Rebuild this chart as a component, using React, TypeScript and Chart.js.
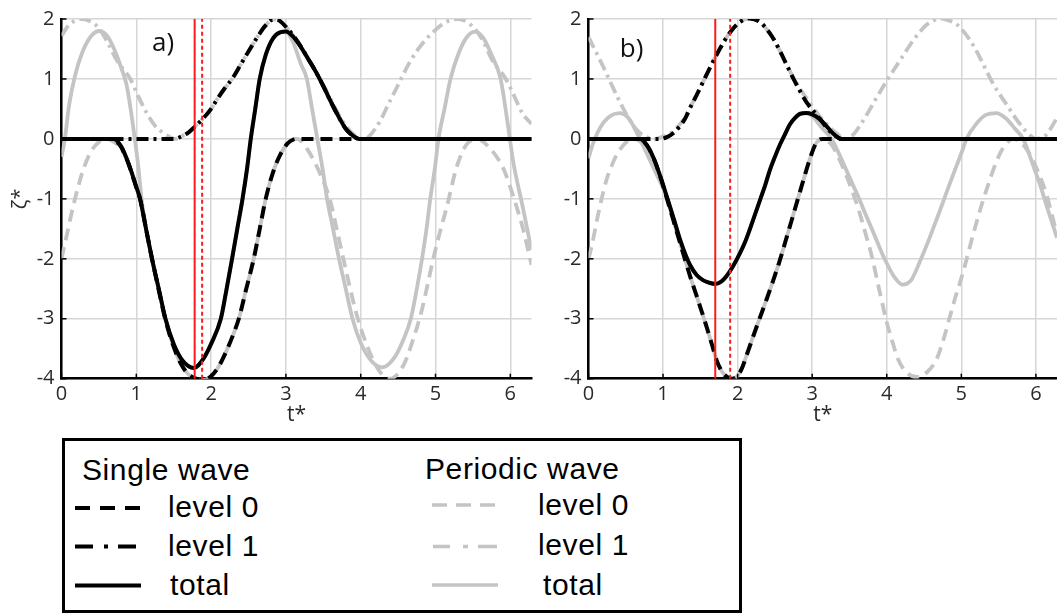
import React, { useEffect, useRef } from 'react';
import { Chart, registerables } from 'chart.js';

Chart.register(...registerables);

type Pt = [number, number];

// ---------- axes ----------
const X_MIN = 0;
const X_MAX = 6.2832;
const Y_MIN = -4;
const Y_MAX = 2;
const X_TICKS = [0, 1, 2, 3, 4, 5, 6];
const Y_TICKS = [-4, -3, -2, -1, 0, 1, 2];
const X_TITLE = 't*';
const Y_TITLE = 'ζ*';

// ---------- panel a) ----------
const A_SINGLE_TOTAL: Pt[] = [
  [0, 0], [0.7, 0], [0.8, -0.13], [0.9, -0.42], [1.0, -0.8], [1.05, -1.0], [1.13, -1.5], [1.21, -2.0],
  [1.3, -2.5], [1.39, -3.0], [1.5, -3.42], [1.62, -3.7], [1.77, -3.82], [1.9, -3.66], [2.0, -3.42],
  [2.13, -3.0], [2.2, -2.55], [2.28, -2.0], [2.35, -1.5], [2.42, -1.0], [2.48, -0.5], [2.53, 0],
  [2.59, 0.5], [2.65, 1.0], [2.73, 1.4], [2.83, 1.68], [2.93, 1.78], [3.0, 1.79], [3.1, 1.7],
  [3.2, 1.53], [3.3, 1.33], [3.4, 1.12], [3.5, 0.88], [3.6, 0.62], [3.7, 0.38], [3.8, 0.17],
  [3.9, 0.05], [3.98, 0], [6.2832, 0],
];
const A_SINGLE_LEVEL0: Pt[] = [
  [0, 0], [0.68, 0], [0.75, -0.06], [0.8, -0.14], [0.9, -0.43], [1.0, -0.81], [1.05, -1.0], [1.13, -1.5],
  [1.21, -2.0], [1.3, -2.52], [1.39, -3.02], [1.5, -3.47], [1.6, -3.76], [1.7, -3.93], [1.8, -4.0],
  [1.9, -4.02], [2.0, -3.96], [2.1, -3.8], [2.2, -3.55], [2.3, -3.25], [2.37, -3.0], [2.47, -2.5],
  [2.57, -2.0], [2.65, -1.5], [2.73, -1.0], [2.83, -0.55], [2.93, -0.25], [3.02, -0.08], [3.1, -0.01],
  [3.15, 0], [6.2832, 0],
];
const A_SINGLE_LEVEL1: Pt[] = [
  [0, 0], [1.5, 0], [1.6, 0.04], [1.7, 0.11], [1.78, 0.2], [1.9, 0.35], [2.0, 0.5], [2.08, 0.66],
  [2.18, 0.84], [2.28, 1.0], [2.4, 1.25], [2.53, 1.52], [2.63, 1.72], [2.72, 1.88], [2.83, 1.99],
  [2.9, 1.98], [3.0, 1.87], [3.1, 1.72], [3.2, 1.54], [3.3, 1.33], [3.4, 1.12], [3.5, 0.88],
  [3.6, 0.62], [3.7, 0.38], [3.8, 0.17], [3.9, 0.05], [3.98, 0], [6.2832, 0],
];
const A_PERIODIC_TOTAL: Pt[] = [
  [0, -0.3], [0.045, 0], [0.1, 0.55], [0.18, 1.05], [0.28, 1.45], [0.4, 1.72], [0.51, 1.8], [0.62, 1.7],
  [0.72, 1.45], [0.8, 1.18], [0.87, 0.9], [0.93, 0.45], [0.98, 0], [1.03, -0.5], [1.07, -1.0],
  [1.13, -1.5], [1.21, -2.0], [1.3, -2.5], [1.39, -3.0], [1.5, -3.42], [1.62, -3.7], [1.77, -3.82],
  [1.9, -3.66], [2.0, -3.42], [2.13, -3.0], [2.2, -2.55], [2.28, -2.0], [2.35, -1.5], [2.42, -1.0],
  [2.48, -0.5], [2.53, 0], [2.59, 0.5], [2.65, 1.0], [2.73, 1.4], [2.83, 1.68], [2.93, 1.78],
  [3.0, 1.79], [3.1, 1.6], [3.2, 1.25], [3.28, 1.0], [3.35, 0.5], [3.42, 0], [3.49, -0.5],
  [3.55, -1.0], [3.63, -1.5], [3.71, -2.0], [3.8, -2.5], [3.89, -3.0], [4.0, -3.4], [4.14, -3.7],
  [4.29, -3.81], [4.45, -3.65], [4.57, -3.35], [4.67, -3.0], [4.75, -2.5], [4.82, -2.0], [4.88, -1.5],
  [4.93, -1.0], [4.99, -0.5], [5.04, 0], [5.12, 0.5], [5.2, 1.0], [5.3, 1.4], [5.42, 1.7],
  [5.53, 1.79], [5.64, 1.68], [5.75, 1.4], [5.87, 1.0], [5.96, 0.3], [6.04, -0.39], [6.16, -1.1],
  [6.2832, -1.85],
];
const A_PERIODIC_LEVEL0: Pt[] = [
  [0, -2.0], [0.08, -1.55], [0.17, -1.05], [0.3, -0.48], [0.4, -0.2], [0.5, -0.05], [0.6, 0],
  [0.7, -0.05], [0.8, -0.16], [0.9, -0.43], [1.0, -0.81], [1.05, -1.0], [1.13, -1.5], [1.21, -2.0],
  [1.3, -2.52], [1.39, -3.02], [1.5, -3.47], [1.6, -3.76], [1.7, -3.93], [1.8, -4.0], [1.9, -4.02],
  [2.0, -3.96], [2.1, -3.8], [2.2, -3.55], [2.3, -3.25], [2.37, -3.0], [2.47, -2.5], [2.57, -2.0],
  [2.65, -1.5], [2.73, -1.0], [2.83, -0.55], [2.93, -0.25], [3.02, -0.08], [3.1, -0.01], [3.15, 0],
  [3.3, -0.2], [3.46, -0.59], [3.59, -1.02], [3.67, -1.45], [3.75, -1.9], [3.85, -2.45],
  [3.95, -2.95], [4.1, -3.5], [4.26, -3.89], [4.39, -4.0], [4.57, -3.78], [4.7, -3.35],
  [4.82, -2.84], [4.97, -2.0], [5.06, -1.55], [5.15, -1.14], [5.28, -0.48], [5.4, -0.12],
  [5.5, -0.01], [5.56, 0], [5.7, -0.12], [5.86, -0.38], [5.93, -0.56], [6.05, -1.0], [6.17, -1.5],
  [6.2832, -2.1],
];
const A_PERIODIC_LEVEL1: Pt[] = [
  [0, 1.72], [0.1, 1.9], [0.27, 2.0], [0.4, 1.95], [0.51, 1.83], [0.62, 1.6], [0.74, 1.31],
  [0.92, 1.0], [1.03, 0.7], [1.14, 0.43], [1.25, 0.22], [1.36, 0.1], [1.45, 0.03], [1.52, 0],
  [1.6, 0.04], [1.7, 0.11], [1.78, 0.2], [1.9, 0.35], [2.0, 0.5], [2.08, 0.66], [2.18, 0.84],
  [2.28, 1.0], [2.4, 1.25], [2.53, 1.52], [2.63, 1.72], [2.72, 1.88], [2.83, 1.99], [2.9, 1.98],
  [3.0, 1.87], [3.1, 1.72], [3.2, 1.54], [3.3, 1.33], [3.4, 1.12], [3.5, 0.9], [3.6, 0.66],
  [3.7, 0.42], [3.8, 0.22], [3.92, 0.06], [4.02, 0], [4.1, 0.03], [4.26, 0.3], [4.37, 0.58],
  [4.48, 0.85], [4.57, 1.08], [4.66, 1.29], [4.77, 1.5], [4.88, 1.67], [5.0, 1.82], [5.1, 1.92],
  [5.2, 1.98], [5.31, 2.0], [5.42, 1.95], [5.53, 1.83], [5.65, 1.6], [5.76, 1.31], [5.94, 1.0],
  [6.05, 0.72], [6.16, 0.43], [6.2832, 0.25],
];
const A_RED_SOLID_T = 1.78;
const A_RED_DOTTED_T = 1.88;

// ---------- panel b) ----------
const B_SINGLE_TOTAL: Pt[] = [
  [0, 0], [0.69, 0], [0.78, -0.1], [0.87, -0.31], [0.97, -0.65], [1.06, -1.0], [1.15, -1.36],
  [1.23, -1.69], [1.3, -1.93], [1.36, -2.1], [1.45, -2.27], [1.54, -2.36], [1.62, -2.4], [1.7, -2.42],
  [1.78, -2.38], [1.85, -2.29], [1.94, -2.12], [2.03, -1.91], [2.1, -1.72], [2.16, -1.52],
  [2.23, -1.27], [2.3, -1.02], [2.37, -0.77], [2.43, -0.53], [2.5, -0.3], [2.57, -0.09], [2.64, 0.09],
  [2.7, 0.24], [2.77, 0.35], [2.84, 0.42], [2.92, 0.43], [3.0, 0.41], [3.1, 0.33], [3.2, 0.2],
  [3.28, 0.09], [3.35, 0.02], [3.4, 0], [6.2832, 0],
];
const B_SINGLE_LEVEL0: Pt[] = [
  [0, 0], [0.66, 0], [0.72, -0.02], [0.78, -0.1], [0.87, -0.31], [0.97, -0.66], [1.06, -1.03],
  [1.16, -1.45], [1.27, -1.91], [1.36, -2.28], [1.45, -2.62], [1.58, -3.12], [1.66, -3.45],
  [1.72, -3.7], [1.8, -3.9], [1.87, -3.98], [1.93, -4.0], [2.0, -3.95], [2.06, -3.82], [2.12, -3.61],
  [2.25, -3.15], [2.39, -2.67], [2.48, -2.35], [2.57, -2.01], [2.66, -1.63], [2.75, -1.25],
  [2.86, -0.78], [2.97, -0.33], [3.04, -0.1], [3.1, -0.01], [3.14, 0], [6.2832, 0],
];
const B_SINGLE_LEVEL1: Pt[] = [
  [0, 0], [0.97, 0], [1.05, 0.03], [1.14, 0.1], [1.23, 0.22], [1.3, 0.35], [1.36, 0.51], [1.45, 0.73],
  [1.54, 0.96], [1.61, 1.14], [1.67, 1.29], [1.76, 1.5], [1.83, 1.65], [1.9, 1.78], [2.03, 1.95],
  [2.16, 2.01], [2.3, 1.95], [2.39, 1.83], [2.48, 1.67], [2.57, 1.46], [2.66, 1.23], [2.75, 1.0],
  [2.84, 0.79], [2.93, 0.6], [3.02, 0.46], [3.1, 0.34], [3.2, 0.18], [3.28, 0.08], [3.35, 0.02],
  [3.4, 0], [6.2832, 0],
];
const B_PERIODIC_TOTAL: Pt[] = [
  [0, -0.32], [0.06, -0.08], [0.12, 0.1], [0.2, 0.27], [0.3, 0.39], [0.42, 0.43], [0.52, 0.37],
  [0.6, 0.22], [0.68, 0.02], [0.78, -0.24], [0.87, -0.48], [0.97, -0.74], [1.06, -1.0], [1.15, -1.36],
  [1.23, -1.69], [1.3, -1.93], [1.36, -2.1], [1.45, -2.27], [1.54, -2.36], [1.62, -2.4], [1.7, -2.42],
  [1.78, -2.38], [1.85, -2.29], [1.94, -2.12], [2.03, -1.91], [2.1, -1.72], [2.16, -1.52],
  [2.23, -1.27], [2.3, -1.02], [2.37, -0.77], [2.43, -0.53], [2.5, -0.3], [2.57, -0.09], [2.64, 0.09],
  [2.7, 0.24], [2.77, 0.35], [2.84, 0.42], [2.92, 0.43], [3.0, 0.38], [3.12, 0.2], [3.26, 0],
  [3.36, -0.25], [3.45, -0.5], [3.54, -0.75], [3.63, -1.0], [3.72, -1.27], [3.8, -1.5], [3.89, -1.77],
  [3.97, -2.0], [4.1, -2.3], [4.21, -2.43], [4.33, -2.35], [4.46, -2.0], [4.54, -1.76], [4.62, -1.5],
  [4.7, -1.24], [4.77, -1.0], [4.85, -0.73], [4.92, -0.5], [5.0, -0.24], [5.07, 0], [5.2, 0.25],
  [5.33, 0.4], [5.47, 0.43], [5.6, 0.34], [5.72, 0.17], [5.83, 0], [5.9, -0.22], [5.98, -0.5],
  [6.06, -0.78], [6.14, -1.1], [6.2832, -1.65],
];
const B_PERIODIC_LEVEL0: Pt[] = [
  [0, -2.0], [0.05, -1.75], [0.09, -1.5], [0.15, -1.14], [0.24, -0.69], [0.31, -0.45], [0.38, -0.26],
  [0.47, -0.1], [0.56, -0.01], [0.62, 0], [0.7, -0.05], [0.78, -0.15], [0.87, -0.35], [0.97, -0.67],
  [1.06, -1.03], [1.16, -1.45], [1.27, -1.91], [1.36, -2.28], [1.45, -2.62], [1.58, -3.12],
  [1.66, -3.45], [1.72, -3.7], [1.8, -3.9], [1.87, -3.98], [1.93, -4.0], [2.0, -3.95], [2.06, -3.82],
  [2.12, -3.61], [2.25, -3.15], [2.39, -2.67], [2.48, -2.35], [2.57, -2.01], [2.66, -1.63],
  [2.75, -1.25], [2.86, -0.78], [2.97, -0.33], [3.04, -0.1], [3.1, -0.01], [3.14, 0], [3.25, -0.08],
  [3.35, -0.3], [3.47, -0.65], [3.56, -0.95], [3.64, -1.25], [3.72, -1.6], [3.8, -1.96], [3.9, -2.52],
  [4.0, -3.06], [4.08, -3.4], [4.15, -3.67], [4.27, -3.9], [4.4, -3.97], [4.55, -3.88], [4.67, -3.67],
  [4.76, -3.35], [4.85, -2.95], [4.93, -2.6], [5.02, -2.24], [5.11, -1.82], [5.2, -1.41], [5.29, -1.03],
  [5.38, -0.69], [5.47, -0.38], [5.56, -0.15], [5.63, -0.04], [5.69, 0], [5.8, -0.06], [5.92, -0.26],
  [6.03, -0.55], [6.14, -0.92], [6.2832, -1.6],
];
const B_PERIODIC_LEVEL1: Pt[] = [
  [0, 1.7], [0.1, 1.45], [0.2, 1.2], [0.3, 0.93], [0.42, 0.62], [0.55, 0.32], [0.67, 0.12], [0.78, 0.03],
  [0.9, 0], [1.0, 0.04], [1.14, 0.13], [1.23, 0.25], [1.3, 0.37], [1.36, 0.52], [1.45, 0.73],
  [1.54, 0.96], [1.61, 1.14], [1.67, 1.29], [1.76, 1.5], [1.83, 1.65], [1.9, 1.78], [2.03, 1.95],
  [2.16, 2.01], [2.3, 1.95], [2.39, 1.83], [2.48, 1.67], [2.57, 1.46], [2.66, 1.23], [2.75, 1.02],
  [2.84, 0.83], [2.97, 0.6], [3.1, 0.38], [3.2, 0.24], [3.28, 0.14], [3.37, 0.05], [3.45, 0],
  [3.55, 0.07], [3.64, 0.22], [3.73, 0.4], [3.86, 0.68], [4.02, 1.01], [4.12, 1.2], [4.22, 1.39],
  [4.33, 1.6], [4.44, 1.78], [4.53, 1.9], [4.62, 1.97], [4.71, 2.01], [4.82, 1.98], [4.93, 1.92],
  [5.05, 1.76], [5.16, 1.56], [5.28, 1.28], [5.4, 0.98], [5.5, 0.77], [5.61, 0.57], [5.72, 0.36],
  [5.83, 0.18], [5.92, 0.06], [6.0, 0], [6.07, 0.02], [6.14, 0.07], [6.2832, 0.35],
];
const B_RED_SOLID_T = 1.7;
const B_RED_DOTTED_T = 1.9;

// ---------- legend ----------
const LEGEND_HEADERS = ['Single wave', 'Periodic wave'];
const LEGEND_LABELS = ['level 0', 'level 1', 'total'];

// ---------- style ----------
const FONT = "'Open Sans', 'DejaVu Sans', sans-serif";
const LEGEND_FONT = "'Liberation Sans', Arial, sans-serif";
const BLACK = '#000000';
const GRAY = '#c4c4c4';
const RED = '#ff1a1a';
const GRID = '#d6d6d6';
const TICK_COLOR = '#2a2a2a';
const DASH = [12, 7];
const DASHDOT = [12, 5, 3, 5];
const BLACK_W = 4;
const GRAY_W = 3.8;

type PanelSpec = {
  key: string;
  left: number;
  width: number;
  height: number;
  yWidth: number;
  padRight: number;
  xHeight: number;
  showYTitle: boolean;
  label: string;
  labelT: number;
  labelV: number;
  singleTotal: Pt[];
  singleL0: Pt[];
  singleL1: Pt[];
  periodicTotal: Pt[];
  periodicL0: Pt[];
  periodicL1: Pt[];
  redSolid: number;
  redDotted: number;
};

const PANELS: PanelSpec[] = [
  {
    key: 'a', left: 0, width: 545, height: 440, yWidth: 61.5, padRight: 13.5, xHeight: 49.3,
    showYTitle: true, label: 'a)', labelT: 1.21, labelV: 1.46,
    singleTotal: A_SINGLE_TOTAL, singleL0: A_SINGLE_LEVEL0, singleL1: A_SINGLE_LEVEL1,
    periodicTotal: A_PERIODIC_TOTAL, periodicL0: A_PERIODIC_LEVEL0, periodicL1: A_PERIODIC_LEVEL1,
    redSolid: A_RED_SOLID_T, redDotted: A_RED_DOTTED_T,
  },
  {
    key: 'b', left: 540, width: 517, height: 440, yWidth: 48.5, padRight: 0, xHeight: 49.3,
    showYTitle: false, label: 'b)', labelT: 0.42, labelV: 1.36,
    singleTotal: B_SINGLE_TOTAL, singleL0: B_SINGLE_LEVEL0, singleL1: B_SINGLE_LEVEL1,
    periodicTotal: B_PERIODIC_TOTAL, periodicL0: B_PERIODIC_LEVEL0, periodicL1: B_PERIODIC_LEVEL1,
    redSolid: B_RED_SOLID_T, redDotted: B_RED_DOTTED_T,
  },
];

const toXY = (pts: Pt[]) => pts.map(([x, y]) => ({ x, y }));
const vline = (t: number): Pt[] => [[t, Y_MIN], [t, Y_MAX]];

function ds(pts: Pt[], color: string, dash: number[], width: number, smooth = true) {
  return {
    data: toXY(pts),
    borderColor: color,
    borderWidth: width,
    borderDash: dash,
    borderCapStyle: 'butt',
    borderJoinStyle: 'round',
    pointRadius: 0,
    fill: false,
    cubicInterpolationMode: smooth ? 'monotone' : 'default',
    tension: 0,
  };
}

const innerTicks = {
  id: 'innerTicks',
  afterDraw(chart: any) {
    const { ctx, chartArea, scales } = chart;
    ctx.save();
    ctx.strokeStyle = '#000';
    ctx.lineWidth = 1.5;
    X_TICKS.forEach((v) => {
      const px = scales.x.getPixelForValue(v);
      ctx.beginPath();
      ctx.moveTo(px, chartArea.bottom);
      ctx.lineTo(px, chartArea.bottom - 5);
      ctx.stroke();
    });
    Y_TICKS.forEach((v) => {
      const py = scales.y.getPixelForValue(v);
      ctx.beginPath();
      ctx.moveTo(chartArea.left, py);
      ctx.lineTo(chartArea.left + 5, py);
      ctx.stroke();
    });
    ctx.restore();
  },
};

const panelLabel = {
  id: 'panelLabel',
  afterDraw(chart: any, _args: any, opts: any) {
    const { ctx, scales } = chart;
    ctx.save();
    ctx.fillStyle = '#111';
    ctx.font = `26px ${FONT}`;
    ctx.textAlign = 'left';
    ctx.textBaseline = 'alphabetic';
    ctx.fillText(opts.text, scales.x.getPixelForValue(opts.t), scales.y.getPixelForValue(opts.v));
    ctx.restore();
  },
};

function buildConfig(p: PanelSpec): any {
  return {
    type: 'line',
    data: {
      datasets: [
        ds(vline(p.redSolid), RED, [], 2, false),
        ds(vline(p.redDotted), RED, [4, 3], 2, false),
        ds(p.singleTotal, BLACK, [], BLACK_W),
        ds(p.singleL0, BLACK, DASH, BLACK_W),
        ds(p.singleL1, BLACK, DASHDOT, BLACK_W),
        ds(p.periodicL0, GRAY, DASH, GRAY_W),
        ds(p.periodicL1, GRAY, DASHDOT, GRAY_W),
        ds(p.periodicTotal, GRAY, [], GRAY_W),
      ],
    },
    options: {
      animation: false,
      responsive: false,
      maintainAspectRatio: false,
      events: [],
      layout: { padding: { left: 0, top: 15, right: p.padRight, bottom: 12 } },
      plugins: {
        legend: { display: false },
        tooltip: { enabled: false },
        panelLabel: { text: p.label, t: p.labelT, v: p.labelV },
      },
      scales: {
        x: {
          type: 'linear',
          min: X_MIN,
          max: X_MAX,
          afterBuildTicks: (s: any) => { s.ticks = X_TICKS.map((value) => ({ value })); },
          afterFit: (s: any) => { s.height = p.xHeight; },
          grid: { color: GRID, lineWidth: 1.5, drawTicks: false },
          border: { color: '#000', width: 2.5 },
          ticks: { font: { family: FONT, size: 20 }, color: TICK_COLOR, padding: 4, maxRotation: 0, autoSkip: false },
          title: { display: true, text: X_TITLE, font: { family: FONT, size: 21 }, color: TICK_COLOR, padding: 0 },
        },
        y: {
          type: 'linear',
          min: Y_MIN,
          max: Y_MAX,
          afterBuildTicks: (s: any) => { s.ticks = Y_TICKS.map((value) => ({ value })); },
          afterFit: (s: any) => { s.width = p.yWidth; },
          grid: { color: GRID, lineWidth: 1.5, drawTicks: false },
          border: { color: '#000', width: 2.5 },
          ticks: { font: { family: FONT, size: 20 }, color: TICK_COLOR, padding: 7, autoSkip: false },
          title: {
            display: p.showYTitle, text: Y_TITLE, font: { family: FONT, size: 20 }, color: TICK_COLOR,
            padding: { top: 8, bottom: 0 },
          },
        },
      },
    },
    plugins: [innerTicks, panelLabel],
  };
}

function Panel({ spec }: { spec: PanelSpec }) {
  const ref = useRef<HTMLCanvasElement>(null);
  useEffect(() => {
    if (!ref.current) return;
    const chart = new Chart(ref.current, buildConfig(spec));
    return () => chart.destroy();
  }, [spec]);
  return (
    <canvas
      ref={ref}
      width={spec.width}
      height={spec.height}
      style={{ position: 'absolute', left: spec.left, top: 0, width: spec.width, height: spec.height }}
    />
  );
}

function LegendText({ text, left, baseline }: { text: string; left: number; baseline: number }) {
  return (
    <div
      style={{
        position: 'absolute', left, top: baseline - 25.4, fontFamily: LEGEND_FONT, fontSize: 30,
        lineHeight: '30px', letterSpacing: '0.6px', whiteSpace: 'nowrap', color: '#000',
      }}
    >
      {text}
    </div>
  );
}

export default function App() {
  return (
    <div style={{ position: 'absolute', left: 0, top: 0, width: 1057, height: 613, background: '#fff', overflow: 'hidden' }}>
      {PANELS.map((p) => <Panel key={p.key} spec={p} />)}
      <div
        style={{
          position: 'absolute', left: 62, top: 438, width: 680, height: 175,
          border: '3.5px solid #000', boxSizing: 'border-box', background: '#fff',
        }}
      />
      <svg width={1057} height={613} style={{ position: 'absolute', left: 0, top: 0 }}>
        <line x1={75} y1={508} x2={141} y2={508} stroke={BLACK} strokeWidth={4} strokeDasharray="15 10" />
        <line x1={75} y1={546.5} x2={141} y2={546.5} stroke={BLACK} strokeWidth={4} strokeDasharray="18 11 4 10 18" />
        <line x1={75} y1={585.5} x2={141} y2={585.5} stroke={BLACK} strokeWidth={4} />
        <line x1={432} y1={505} x2={498} y2={505} stroke={GRAY} strokeWidth={3.5} strokeDasharray="15 9" />
        <line x1={433} y1={546.5} x2={497} y2={546.5} stroke={GRAY} strokeWidth={3.5} strokeDasharray="17 13 5 10 19" />
        <line x1={432} y1={585} x2={498} y2={585} stroke={GRAY} strokeWidth={3.5} />
      </svg>
      <LegendText text={LEGEND_HEADERS[0]} left={82} baseline={480} />
      <LegendText text={LEGEND_LABELS[0]} left={168} baseline={517} />
      <LegendText text={LEGEND_LABELS[1]} left={168} baseline={556.5} />
      <LegendText text={LEGEND_LABELS[2]} left={170} baseline={595} />
      <LegendText text={LEGEND_HEADERS[1]} left={425} baseline={479.5} />
      <LegendText text={LEGEND_LABELS[0]} left={538} baseline={515.5} />
      <LegendText text={LEGEND_LABELS[1]} left={538} baseline={555.5} />
      <LegendText text={LEGEND_LABELS[2]} left={543} baseline={595} />
    </div>
  );
}
